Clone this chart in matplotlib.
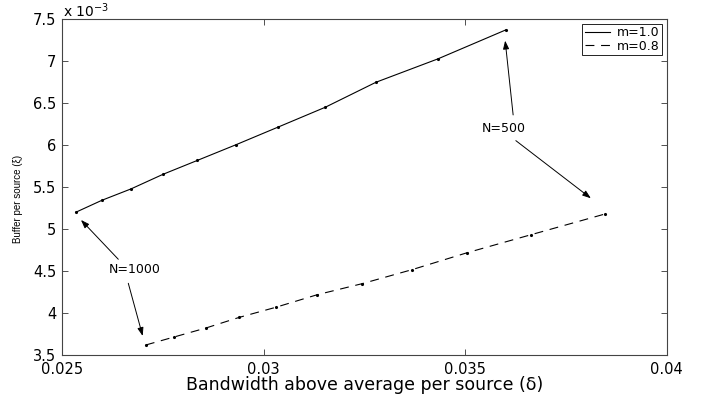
import matplotlib

matplotlib.use("Agg")
import matplotlib.pyplot as plt
from matplotlib.ticker import FixedLocator, FuncFormatter

plt.rcParams["font.family"] = ["DejaVu Sans"]

# m=1.0 (solid) and m=0.8 (dashed) series
delta_m10 = [0.02534, 0.02599, 0.02671, 0.02751, 0.02836, 0.02932,
             0.03037, 0.03153, 0.03279, 0.03432, 0.03601]
xi_m10 = [5.202e-3, 5.345e-3, 5.480e-3, 5.655e-3, 5.820e-3, 6.007e-3,
          6.218e-3, 6.452e-3, 6.750e-3, 7.027e-3, 7.373e-3]
delta_m08 = [0.02708, 0.02778, 0.02857, 0.02940, 0.03030, 0.03133,
             0.03244, 0.03368, 0.03505, 0.03664, 0.03847]
xi_m08 = [3.623e-3, 3.718e-3, 3.825e-3, 3.952e-3, 4.071e-3, 4.221e-3,
          4.352e-3, 4.519e-3, 4.721e-3, 4.936e-3, 5.182e-3]

x_ticks = [0.025, 0.03, 0.035, 0.04]
x_tick_labels = ["0.025", "0.03", "0.035", "0.04"]
y_ticks = [3.5e-3, 4.0e-3, 4.5e-3, 5.0e-3, 5.5e-3, 6.0e-3, 6.5e-3, 7.0e-3, 7.5e-3]

fig = plt.figure(figsize=(7.02, 3.97), dpi=100)
ax = fig.add_axes((0.0883, 0.105, 0.8614, 0.8466))

dash = (0, (8, 6))
ax.plot(delta_m10, xi_m10, color="black", lw=0.8, label="m=1.0")
ax.plot(delta_m08, xi_m08, color="black", lw=0.8, ls=dash, label="m=0.8")
ax.plot(delta_m10, xi_m10, ls="none", color="black", marker=".", ms=2.5)
ax.plot(delta_m08, xi_m08, ls="none", color="black", marker=".", ms=2.5)

ax.set_xlim(0.025, 0.04)
ax.set_ylim(3.5e-3, 7.5e-3)
ax.xaxis.set_major_locator(FixedLocator(x_ticks))
ax.set_xticklabels(x_tick_labels)
ax.yaxis.set_major_locator(FixedLocator(y_ticks))
ax.yaxis.set_major_formatter(FuncFormatter(lambda v, _: f"{v * 1e3:g}"))
ax.tick_params(direction="in", length=4, width=0.6, top=True, right=True,
               labelsize=10.5, color="#333333")
ax.tick_params(axis="x", pad=5)
ax.tick_params(axis="y", pad=4)
for s in ax.spines.values():
    s.set_color("#444444")
    s.set_linewidth(0.8)

ax.set_xlabel("Bandwidth above average per source (δ)", fontsize=12.5,
              labelpad=-1)
fig.text(0.026, 0.50, "Buffer per source (ξ)", rotation=90, fontsize=7,
         family="Liberation Sans", ha="center", va="center")
fig.text(0.0893, 0.956, r"x 10$^{\mathregular{-3}}$", fontsize=10,
         ha="left", va="baseline")

leg = ax.legend(loc="upper right", fontsize=9, frameon=True, fancybox=False,
                framealpha=1, borderpad=0.2, handlelength=2.0,
                handletextpad=0.6, labelspacing=0.05, borderaxespad=0.35)
leg.get_frame().set_edgecolor("black")
leg.get_frame().set_linewidth(0.6)

arrow = dict(arrowstyle="-|>,head_length=0.5,head_width=0.18", color="black",
             lw=0.7, shrinkA=0, shrinkB=0)
# N=1000 label with arrows to the first points of both series
ax.text(0.026811, 4.521e-3, "N=1000", fontsize=9, ha="center", va="center")
ax.annotate("", xy=(0.025471, 5.111e-3), xytext=(0.026397, 4.643e-3),
            arrowprops=arrow)
ax.annotate("", xy=(0.027002, 3.730e-3), xytext=(0.026645, 4.357e-3),
            arrowprops=arrow)
# N=500 label with arrows to the last points of both series
ax.text(0.035968, 6.194e-3, "N=500", fontsize=9, ha="center", va="center")
ax.annotate("", xy=(0.035993, 7.245e-3), xytext=(0.036191, 6.361e-3),
            arrowprops=arrow)
ax.annotate("", xy=(0.038119, 5.369e-3), xytext=(0.036258, 6.055e-3),
            arrowprops=arrow)

fig.savefig("out.png", dpi=100, facecolor="white")
